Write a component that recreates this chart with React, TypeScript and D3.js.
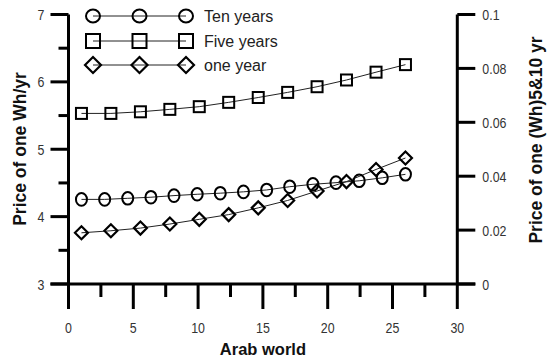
import React from "react";
import * as d3 from "d3";

const xFive = [1, 3.27, 5.55, 7.82, 10.09, 12.36, 14.64, 16.91, 19.18, 21.45, 23.73, 26];
const fiveYears = [0.0633, 0.0633, 0.0639, 0.0648, 0.0658, 0.0674, 0.0692, 0.0711, 0.0732, 0.0757, 0.0786, 0.0814];

const xTen = [1, 2.79, 4.57, 6.36, 8.14, 9.93, 11.71, 13.5, 15.29, 17.07, 18.86, 20.64, 22.43, 24.21, 26];
const tenYears = [0.0314, 0.0314, 0.0318, 0.0322, 0.0328, 0.0333, 0.0337, 0.0342, 0.0349, 0.0361, 0.037, 0.0376, 0.0383, 0.0394, 0.0407];

const xOne = [1, 3.27, 5.55, 7.82, 10.09, 12.36, 14.64, 16.91, 19.18, 21.45, 23.73, 26];
const oneYear = [3.76, 3.79, 3.83, 3.89, 3.96, 4.03, 4.13, 4.24, 4.38, 4.52, 4.7, 4.87];

const xTicks = [0, 5, 10, 15, 20, 25, 30];
const xMinor = [2.5, 7.5, 12.5, 17.5, 22.5, 27.5];
const leftTicks = [3, 4, 5, 6, 7];
const leftMinor = [3.5, 4.5, 5.5, 6.5];
const rightTicks = [0, 0.02, 0.04, 0.06, 0.08, 0.1];
const legendLabels = ["Ten years", "Five years", "one year"];

const FONT = "'Liberation Sans', Arial, sans-serif";

function Marker({ type, x, y, big }: { type: string; x: number; y: number; big?: boolean }) {
  const s = big ? 7 : 5.5;
  if (type === "circle") {
    return <ellipse cx={x} cy={y} rx={s} ry={big ? s - 0.5 : s + 0.8} fill="none" stroke="#000" strokeWidth={2} />;
  }
  if (type === "square") {
    return <rect x={x - s} y={y - s} width={2 * s} height={2 * s} fill="none" stroke="#000" strokeWidth={2} />;
  }
  const d = s + 1;
  return (
    <path
      d={`M${x - d},${y}L${x},${y - d}L${x + d},${y}L${x},${y + d}Z`}
      fill="none"
      stroke="#000"
      strokeWidth={2.2}
    />
  );
}

export default function App() {
  const W = 547;
  const H = 358;
  const x = d3.scaleLinear().domain([0, 30]).range([68.5, 457.3]);
  const yL = d3.scaleLinear().domain([3, 7]).range([284, 14.5]);
  const yR = d3.scaleLinear().domain([0, 0.1]).range([284, 14.5]);

  const lineFive = d3.line<number>().x((_, i) => x(xFive[i])).y((d) => yR(d));
  const lineTen = d3.line<number>().x((_, i) => x(xTen[i])).y((d) => yR(d));
  const lineOne = d3.line<number>().x((_, i) => x(xOne[i])).y((d) => yL(d));

  const x0 = x(0);
  const x1 = x(30);
  const yTop = yL(7);
  const yBot = yL(3);

  const tickStyle = { fontFamily: FONT, fontSize: 15.5, fill: "#333" } as const;
  const sx = 0.8;

  const legendRows = [
    { type: "circle", y: 16 },
    { type: "square", y: 41 },
    { type: "diamond", y: 65 },
  ];
  const legendX = [93, 139.5, 186];

  return (
    <svg width={W} height={H} style={{ position: "absolute", left: 0, top: 0, background: "#fff" }}>
      <rect x={0} y={0} width={W} height={H} fill="#fff" />
      {/* series lines */}
      <path d={lineFive(fiveYears) || ""} fill="none" stroke="#222" strokeWidth={1} />
      <path d={lineTen(tenYears) || ""} fill="none" stroke="#222" strokeWidth={1} />
      <path d={lineOne(oneYear) || ""} fill="none" stroke="#222" strokeWidth={1} />
      {fiveYears.map((v, i) => (
        <Marker key={"f" + i} type="square" x={x(xFive[i])} y={yR(v)} />
      ))}
      {tenYears.map((v, i) => (
        <Marker key={"t" + i} type="circle" x={x(xTen[i])} y={yR(v)} />
      ))}
      {oneYear.map((v, i) => (
        <Marker key={"o" + i} type="diamond" x={x(xOne[i])} y={yL(v)} />
      ))}

      {/* axes */}
      <line x1={x0} y1={yTop} x2={x0} y2={yBot} stroke="#000" strokeWidth={3} />
      <line x1={x1} y1={yTop} x2={x1} y2={yBot} stroke="#000" strokeWidth={3} />
      <line x1={x0 - 18} y1={yBot} x2={x1 + 18} y2={yBot} stroke="#000" strokeWidth={3} />

      {leftTicks.map((t) => (
        <g key={"l" + t}>
          <line x1={x0 - 18} y1={yL(t)} x2={x0} y2={yL(t)} stroke="#000" strokeWidth={3} />
          <text
            transform={`translate(${x0 - 24},${yL(t) + 5.5}) scale(${sx},1)`}
            textAnchor="end"
            {...tickStyle}
          >
            {t}
          </text>
        </g>
      ))}
      {leftMinor.map((t) => (
        <line key={"lm" + t} x1={x0 - 10} y1={yL(t)} x2={x0} y2={yL(t)} stroke="#000" strokeWidth={3} />
      ))}
      {rightTicks.map((t) => (
        <g key={"r" + t}>
          <line x1={x1} y1={yR(t)} x2={x1 + 18} y2={yR(t)} stroke="#000" strokeWidth={3} />
          <text transform={`translate(${x1 + 25},${yR(t) + 5.5}) scale(${sx},1)`} textAnchor="start" {...tickStyle}>
            {t === 0 ? "0" : String(t)}
          </text>
        </g>
      ))}
      {xTicks.map((t) => (
        <g key={"x" + t}>
          <line x1={x(t)} y1={yBot} x2={x(t)} y2={yBot + 25} stroke="#000" strokeWidth={3} />
          <text transform={`translate(${x(t)},${yBot + 49}) scale(${sx},1)`} textAnchor="middle" {...tickStyle}>
            {t}
          </text>
        </g>
      ))}
      {xMinor.map((t) => (
        <line key={"xm" + t} x1={x(t)} y1={yBot} x2={x(t)} y2={yBot + 13} stroke="#000" strokeWidth={3} />
      ))}

      {/* axis titles */}
      <text
        x={(x0 + x1) / 2}
        y={355}
        textAnchor="middle"
        fontFamily={FONT}
        fontWeight="bold"
        fontSize={16.5}
        fill="#111"
      >
        Arab world
      </text>
      <text
        transform={`translate(26,149) rotate(-90)`}
        textAnchor="middle"
        fontFamily={FONT}
        fontWeight="bold"
        fontSize={17.5}
        fill="#111"
      >
        Price of one Wh/yr
      </text>
      <text
        transform={`translate(542,140) rotate(-90)`}
        textAnchor="middle"
        fontFamily={FONT}
        fontWeight="bold"
        fontSize={17.5}
        fill="#111"
      >
        Price of one (Wh)5&amp;10 yr
      </text>

      {/* legend */}
      {legendRows.map((r, i) => (
        <g key={"lg" + i}>
          <line x1={legendX[0]} y1={r.y} x2={legendX[2]} y2={r.y} stroke="#222" strokeWidth={1} />
          {legendX.map((lx, j) => (
            <Marker key={j} type={r.type} x={lx} y={r.y} big />
          ))}
          <text x={204} y={r.y + 6} fontFamily={FONT} fontSize={16} fill="#222">
            {legendLabels[i]}
          </text>
        </g>
      ))}
    </svg>
  );
}
